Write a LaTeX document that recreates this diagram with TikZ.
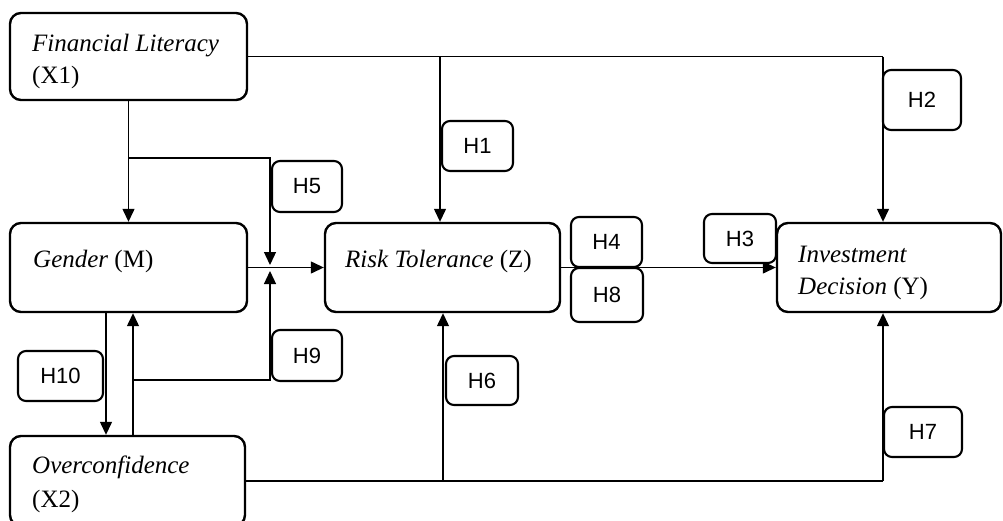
\documentclass[tikz,border=0pt]{standalone}
\usepackage{fontspec}
\setmainfont{Liberation Serif}
\newfontfamily\hfont{Liberation Sans}
\usetikzlibrary{arrows.meta}
\begin{document}
\begin{tikzpicture}[x=1pt,y=-1pt,
  var/.style={draw, fill=white, line width=2.4pt, rounded corners=11pt, inner sep=0pt},
  hyp/.style={draw, fill=white, line width=2.1pt, rounded corners=8pt, inner sep=0pt,
    font=\hfont\fontsize{22}{22}\selectfont},
  conn/.style={line width=1.3pt},
  arr/.style={conn, -{Triangle[length=13pt,width=12pt]}},
  vtext/.style={anchor=base west, inner sep=0pt, font=\fontsize{25}{30}\selectfont}
]
\useasboundingbox (0,0) rectangle (1003,520);
\clip (0,0) rectangle (1003,520);

% variable boxes
\node[var, minimum width=237pt, minimum height=87pt] (x1) at (128.5,56.5) {};
\node[var, minimum width=237pt, minimum height=89pt] (m)  at (128.5,267.5) {};
\node[var, minimum width=235pt, minimum height=89pt] (z)  at (442.5,267.5) {};
\node[var, minimum width=224pt, minimum height=89pt] (y)  at (889,267.5) {};
\node[var, minimum width=235pt, minimum height=90pt] (x2) at (127.5,481) {};

% texts
\node[vtext] (tx1a) at (32,51) {\textit{Financial Literacy}};
\node[vtext] (tx1b) at (32,83) {(X1)};
\node[vtext] (tm)   at (33,267) {\textit{Gender} (M)};
\node[vtext] (tz)   at (345,267) {\textit{Risk Tolerance} (Z)};
\node[vtext] (tya)  at (798,262) {\textit{Investment}};
\node[vtext] (tyb)  at (798,294) {\textit{Decision} (Y)};
\node[vtext] (tx2a) at (32,473) {\textit{Overconfidence}};
\node[vtext] (tx2b) at (32,507) {(X2)};

% helper coordinates
\coordinate (c2) at (883,56.5);
\coordinate (c1) at (440,56.5);
\coordinate (b5) at (128.5,158);
\coordinate (jt) at (270,265);
\coordinate (jb) at (270,271);
\coordinate (g1) at (106,0);
\coordinate (g2) at (133,0);
\coordinate (b9) at (133,380);
\coordinate (c7) at (883,481);
\coordinate (c6) at (443,481);

% connectors
\draw[conn] (x1.east) -- (c2);
\draw[arr] (c2) -- (c2 |- y.north);
\draw[arr] (c1) -- (c1 |- z.north);
\draw[arr] (x1.south) -- (m.north);
\draw[arr] (b5) -| (jt);
\draw[arr] (m.east) -- (z.west);
\draw[arr] (z.east) -- (y.west);
\draw[arr] (m.south -| g1) -- (x2.north -| g1);
\draw[arr] (x2.north -| g2) -- (m.south -| g2);
\draw[arr] (b9) -| (jb);
\draw[conn] (x2.east) -- (c7);
\draw[arr] (c7) -- (c7 |- y.south);
\draw[arr] (c6) -- (c6 |- z.south);

% hypothesis boxes
\node[hyp, minimum width=71pt, minimum height=50pt] (h1) at (477.5,146) {H1};
\node[hyp, minimum width=78pt, minimum height=60pt] (h2) at (922,100) {H2};
\node[hyp, minimum width=72pt, minimum height=49pt] (h3) at (740,238.5) {H3};
\node[hyp, minimum width=71pt, minimum height=50pt] (h4) at (606.5,242) {H4};
\node[hyp, minimum width=72pt, minimum height=54pt] (h8) at (607,295) {H8};
\node[hyp, minimum width=70pt, minimum height=51pt] (h5) at (307,186.5) {H5};
\node[hyp, minimum width=70pt, minimum height=51pt] (h9) at (307,355.5) {H9};
\node[hyp, minimum width=85pt, minimum height=50pt] (h10) at (60.5,376) {H10};
\node[hyp, minimum width=72pt, minimum height=49pt] (h6) at (482,380.5) {H6};
\node[hyp, minimum width=78pt, minimum height=50pt] (h7) at (923,432) {H7};
\end{tikzpicture}
\end{document}
